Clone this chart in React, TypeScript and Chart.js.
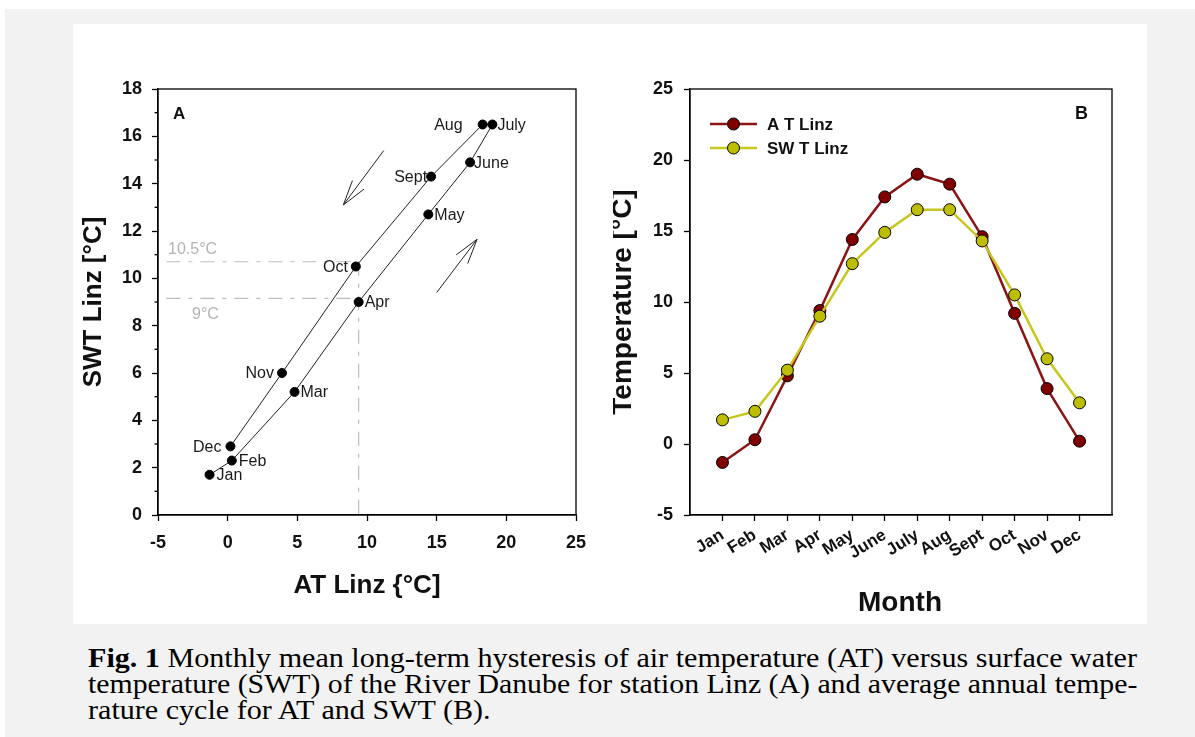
import React, { useEffect, useLayoutEffect, useRef } from 'react';
import { Chart, registerables } from 'chart.js';

Chart.register(...registerables);

// ---------- data ----------
const months = ['Jan', 'Feb', 'Mar', 'Apr', 'May', 'June', 'July', 'Aug', 'Sept', 'Oct', 'Nov', 'Dec'];
const atLinz = [-1.3, 0.3, 4.8, 9.4, 14.4, 17.4, 19.0, 18.3, 14.6, 9.2, 3.9, 0.2];
const swtLinz = [1.7, 2.3, 5.2, 9.0, 12.7, 14.9, 16.5, 16.5, 14.3, 10.5, 6.0, 2.9];

// hysteresis panel helper lines (SWT levels / AT value) and their labels
const refSwtLevels = [10.7, 9.15];
const refSwtLabels = ['10.5°C', '9°C'];
const refAtValue = 9.4;
const refAtStart = -4.4;

// direction arrows in panel A (AT, SWT): [from, to]
const arrowCooling = [[11.2, 15.4], [8.3, 13.1]];
const arrowWarming = [[15.0, 9.4], [17.9, 11.65]];

// month label placement in panel A
const labelSide = ['r', 'r', 'r', 'r', 'r', 'r', 'r', 'l', 'l', 'l', 'l', 'l'];
const labelGap = [7, 7, 6, 6, 6, 4, 5, 20, 4, 8, 8, 9];

const AT_COLOR = '#8B1414';
const AT_FILL = '#800000';
const SWT_COLOR = '#C6C61E';
const SWT_FILL = '#BEBE00';

const FONT = '"Liberation Sans", Arial, Helvetica, sans-serif';
const SERIF = '"Liberation Serif", "Times New Roman", Times, serif';

function drawArrow(ctx: CanvasRenderingContext2D, x1: number, y1: number, x2: number, y2: number) {
  const ang = Math.atan2(y1 - y2, x1 - x2);
  const len = 26;
  const spread = 0.28;
  ctx.beginPath();
  ctx.moveTo(x1, y1);
  ctx.lineTo(x2, y2);
  ctx.moveTo(x2 + len * Math.cos(ang - spread), y2 + len * Math.sin(ang - spread));
  ctx.lineTo(x2, y2);
  ctx.lineTo(x2 + len * Math.cos(ang + spread), y2 + len * Math.sin(ang + spread));
  ctx.stroke();
}

const axisCommon = (size: number, padding: number) => ({
  ticks: { font: { family: FONT, size, weight: 'bold' as const }, color: '#111', padding },
  grid: { drawOnChartArea: false, drawTicks: true, tickLength: 6, tickColor: '#000', tickWidth: 1.3 },
  border: { display: true, color: '#000', width: 1.3 },
});

const leftDecor = {
  id: 'leftDecor',
  afterDatasetsDraw(chart: any) {
    const { ctx, chartArea: a, scales } = chart;
    const x = scales.x;
    const y = scales.y;
    ctx.save();
    // frame
    ctx.strokeStyle = '#000';
    ctx.lineWidth = 1.3;
    ctx.strokeRect(a.left, a.top, a.right - a.left, a.bottom - a.top);
    // minor ticks
    for (let v = 1; v < 18; v += 2) {
      const py = y.getPixelForValue(v);
      ctx.beginPath();
      ctx.moveTo(a.left, py);
      ctx.lineTo(a.left - 3.5, py);
      ctx.stroke();
    }
    // month labels
    ctx.fillStyle = '#1a1a1a';
    ctx.font = `16px ${FONT}`;
    ctx.textBaseline = 'middle';
    months.forEach((m, i) => {
      const px = x.getPixelForValue(atLinz[i]);
      const py = y.getPixelForValue(swtLinz[i]);
      if (labelSide[i] === 'r') {
        ctx.textAlign = 'left';
        ctx.fillText(m, px + labelGap[i], py + 1);
      } else {
        ctx.textAlign = 'right';
        ctx.fillText(m, px - labelGap[i], py + 1);
      }
    });
    // arrows
    ctx.strokeStyle = '#222';
    ctx.lineWidth = 1;
    [arrowCooling, arrowWarming].forEach((ar) => {
      drawArrow(
        ctx,
        x.getPixelForValue(ar[0][0]), y.getPixelForValue(ar[0][1]),
        x.getPixelForValue(ar[1][0]), y.getPixelForValue(ar[1][1])
      );
    });
    // reference labels
    ctx.fillStyle = '#b4b4b4';
    ctx.font = `16px ${FONT}`;
    ctx.textAlign = 'left';
    ctx.fillText(refSwtLabels[0], a.left + 10, y.getPixelForValue(refSwtLevels[0]) - 12);
    ctx.fillText(refSwtLabels[1], a.left + 34, y.getPixelForValue(refSwtLevels[1]) + 16);
    // panel letter
    ctx.fillStyle = '#111';
    ctx.font = `bold 17px ${FONT}`;
    ctx.fillText('A', a.left + 15, a.top + 25);
    // axis titles
    ctx.font = `bold 26px ${FONT}`;
    ctx.textAlign = 'center';
    ctx.fillText('AT Linz {°C]', (a.left + a.right) / 2 + 0, 562);
    ctx.translate(21, (a.top + a.bottom) / 2);
    ctx.rotate(-Math.PI / 2);
    ctx.fillText('SWT Linz [°C]', 0, 0);
    ctx.restore();
  },
};

const rightDecor = {
  id: 'rightDecor',
  afterDatasetsDraw(chart: any) {
    const { ctx, chartArea: a } = chart;
    ctx.save();
    ctx.strokeStyle = '#000';
    ctx.lineWidth = 1.3;
    ctx.strokeRect(a.left, a.top, a.right - a.left, a.bottom - a.top);
    // legend
    const items = chart.data.datasets;
    items.forEach((ds: any, i: number) => {
      const ly = 100 + i * 24;
      ctx.strokeStyle = ds.borderColor;
      ctx.lineWidth = 2.5;
      ctx.beginPath();
      ctx.moveTo(97, ly);
      ctx.lineTo(144, ly);
      ctx.stroke();
      ctx.beginPath();
      ctx.arc(120.5, ly, 6, 0, Math.PI * 2);
      ctx.fillStyle = ds.pointBackgroundColor;
      ctx.fill();
      ctx.strokeStyle = '#000';
      ctx.lineWidth = 1;
      ctx.stroke();
      ctx.fillStyle = '#111';
      ctx.font = `bold 17px ${FONT}`;
      ctx.textAlign = 'left';
      ctx.textBaseline = 'middle';
      ctx.fillText(ds.label, 154, ly + 1);
    });
    // panel letter
    ctx.fillStyle = '#111';
    ctx.font = `bold 18px ${FONT}`;
    ctx.textAlign = 'left';
    ctx.textBaseline = 'middle';
    ctx.fillText('B', a.right - 37, a.top + 25);
    // axis titles
    ctx.font = `bold 28px ${FONT}`;
    ctx.textAlign = 'center';
    ctx.fillText('Month', (a.left + a.right) / 2 - 1, 579);
    ctx.translate(10, (a.top + a.bottom) / 2);
    ctx.rotate(-Math.PI / 2);
    ctx.fillText('Temperature [°C]', 0, 0);
    ctx.restore();
  },
};

export default function App() {
  const leftRef = useRef<HTMLCanvasElement>(null);
  const rightRef = useRef<HTMLCanvasElement>(null);
  const l1 = useRef<HTMLDivElement>(null);
  const l2 = useRef<HTMLDivElement>(null);
  const l3 = useRef<HTMLDivElement>(null);

  useLayoutEffect(() => {
    const target = 1049;
    const w1 = l1.current!.offsetWidth;
    const w2 = l2.current!.offsetWidth;
    const k1 = target / w1;
    const k2 = target / w2;
    l1.current!.style.transform = `scaleX(${k1})`;
    l2.current!.style.transform = `scaleX(${k2})`;
    l3.current!.style.transform = `scaleX(${k1})`;
  }, []);

  useEffect(() => {
    const refDatasets = [
      ...refSwtLevels.map((lv) => ({
        data: [{ x: refAtStart, y: lv }, { x: refAtValue, y: lv }],
      })),
      { data: [{ x: refAtValue, y: refSwtLevels[0] }, { x: refAtValue, y: 0 }] },
    ].map((d) => ({
      ...d,
      showLine: true,
      borderColor: '#bdbdbd',
      borderWidth: 1.2,
      borderDash: [14, 8, 4, 8],
      pointRadius: 0,
      order: 5,
    }));

    const left = new Chart(leftRef.current!, {
      type: 'scatter',
      data: {
        datasets: [
          {
            data: months.map((_, i) => ({ x: atLinz[i], y: swtLinz[i] })),
            showLine: true,
            borderColor: '#222',
            borderWidth: 1,
            pointRadius: 4.5,
            pointBackgroundColor: '#000',
            pointBorderColor: '#000',
            order: 1,
          },
          ...refDatasets,
        ] as any,
      },
      options: {
        responsive: false,
        animation: false,
        layout: { padding: { left: 25, right: 37, top: 65, bottom: 69 } },
        plugins: { legend: { display: false }, tooltip: { enabled: false } },
        scales: {
          x: {
            type: 'linear',
            min: -5,
            max: 25,
            ...axisCommon(18, 11),
            ticks: { ...axisCommon(18, 11).ticks, stepSize: 5, maxRotation: 0 },
            afterFit: (s: any) => { s.height = 40; s.paddingLeft = 0; s.paddingRight = 0; },
          },
          y: {
            type: 'linear',
            min: 0,
            max: 18,
            ...axisCommon(18, 10),
            ticks: { ...axisCommon(18, 10).ticks, stepSize: 2 },
            afterFit: (s: any) => { s.width = 60; s.paddingTop = 0; s.paddingBottom = 0; },
          },
        } as any,
      },
      plugins: [leftDecor],
    });

    const right = new Chart(rightRef.current!, {
      type: 'line',
      data: {
        datasets: [
          {
            label: 'A T Linz',
            data: months.map((_, i) => ({ x: i + 1, y: atLinz[i] })),
            borderColor: AT_COLOR,
            borderWidth: 2.5,
            pointRadius: 6,
            pointBackgroundColor: AT_FILL,
            pointBorderColor: '#000',
            pointBorderWidth: 1,
            order: 2,
          },
          {
            label: 'SW T Linz',
            data: months.map((_, i) => ({ x: i + 1, y: swtLinz[i] })),
            borderColor: SWT_COLOR,
            borderWidth: 2.5,
            pointRadius: 6,
            pointBackgroundColor: SWT_FILL,
            pointBorderColor: '#000',
            pointBorderWidth: 1,
            order: 1,
          },
        ] as any,
      },
      options: {
        responsive: false,
        animation: false,
        layout: { padding: { left: 17, right: 35, top: 65, bottom: 59 } },
        plugins: { legend: { display: false }, tooltip: { enabled: false } },
        scales: {
          x: {
            type: 'linear',
            min: 0,
            max: 13,
            ...axisCommon(17, 4),
            ticks: {
              ...axisCommon(17, 4).ticks,
              autoSkip: false,
              minRotation: 32,
              maxRotation: 32,
              callback: (v: any) => months[Number(v) - 1] ?? '',
            },
            afterBuildTicks: (s: any) => { s.ticks = months.map((_, i) => ({ value: i + 1 })); },
            afterFit: (s: any) => { s.height = 50; s.paddingLeft = 0; s.paddingRight = 0; },
          },
          y: {
            type: 'linear',
            min: -5,
            max: 25,
            ...axisCommon(18, 11),
            ticks: { ...axisCommon(18, 11).ticks, stepSize: 5 },
            afterFit: (s: any) => { s.width = 60; s.paddingTop = 0; s.paddingBottom = 0; },
          },
        } as any,
      },
      plugins: [rightDecor],
    });

    return () => {
      left.destroy();
      right.destroy();
    };
  }, []);

  const lineStyle: React.CSSProperties = {
    position: 'absolute',
    left: 88,
    whiteSpace: 'nowrap',
    transformOrigin: 'left top',
    display: 'inline-block',
    width: 'auto',
  };

  return (
    <div style={{ position: 'absolute', left: 0, top: 0, width: 1195, height: 737, background: '#fff', overflow: 'hidden' }}>
      <div style={{ position: 'absolute', left: 5, top: 9, width: 1190, height: 728, background: '#f2f2f2' }} />
      <div style={{ position: 'absolute', left: 73, top: 24, width: 1074, height: 600, background: '#fff' }} />
      <canvas ref={leftRef} width={540} height={600} style={{ position: 'absolute', left: 73, top: 24, width: 540, height: 600 }} />
      <canvas ref={rightRef} width={534} height={600} style={{ position: 'absolute', left: 613, top: 24, width: 534, height: 600 }} />
      <div style={{ fontFamily: SERIF, fontSize: 27, lineHeight: '27px', color: '#000' }}>
        <div ref={l1} style={{ ...lineStyle, top: 645 }}>
          <b>Fig. 1</b> Monthly mean long-term hysteresis of air temperature (AT) versus surface water
        </div>
        <div ref={l2} style={{ ...lineStyle, top: 671 }}>
          temperature (SWT) of the River Danube for station Linz (A) and average annual tempe-
        </div>
        <div ref={l3} style={{ ...lineStyle, top: 697 }}>
          rature cycle for AT and SWT (B).
        </div>
      </div>
    </div>
  );
}
